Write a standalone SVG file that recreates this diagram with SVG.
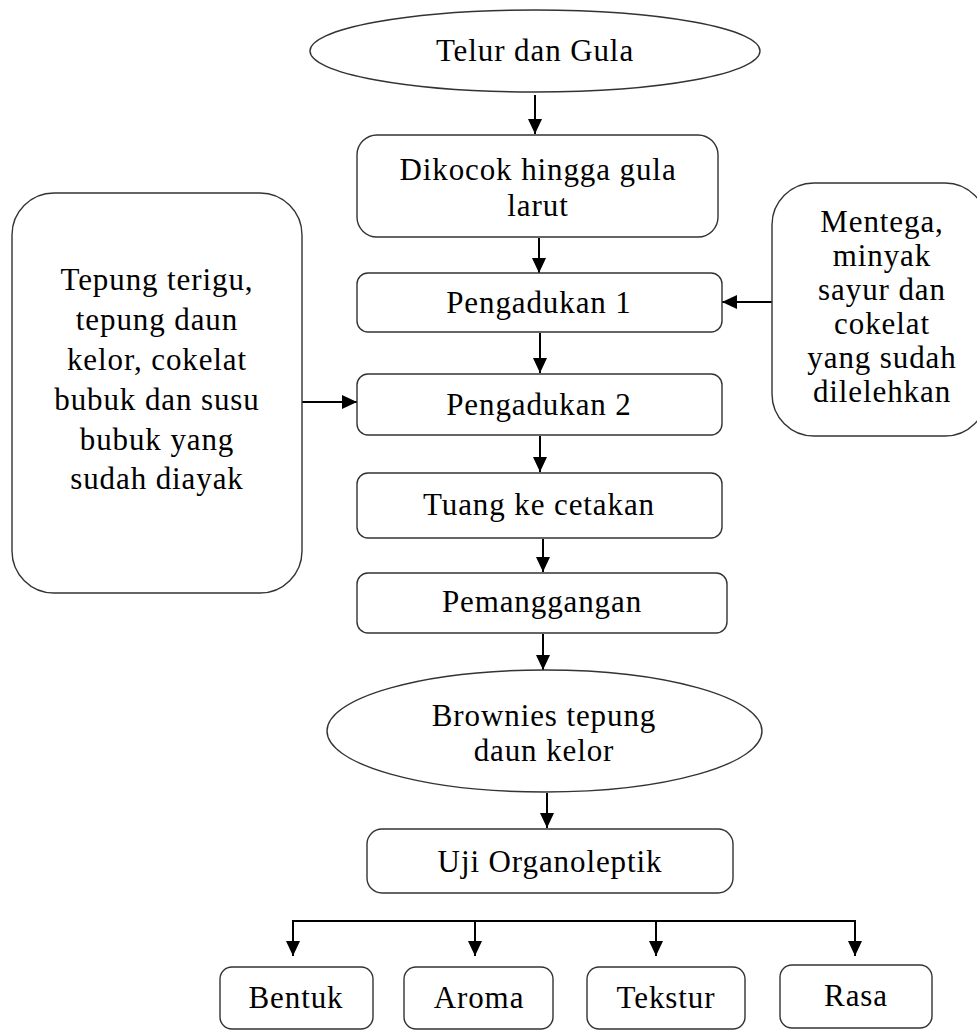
<svg xmlns="http://www.w3.org/2000/svg" width="977" height="1030" viewBox="0 0 977 1030">
<defs>
<marker id="ah" viewBox="0 0 15 14" refX="15" refY="7" markerWidth="15" markerHeight="14" markerUnits="userSpaceOnUse" orient="auto">
<path d="M0,0 L15,7 L0,14 Z" fill="#000"/>
</marker>
</defs>
<style>
.box{fill:#fff;stroke:#333;stroke-width:1.4}
.t{font-family:'Liberation Serif','Times New Roman',serif;font-size:31px;fill:#000;text-anchor:middle;letter-spacing:0.9px}
.c{fill:none;stroke:#000;stroke-width:2}
.a{fill:none;stroke:#000;stroke-width:2;marker-end:url(#ah)}
</style>
<rect width="977" height="1030" fill="#fff"/>
<g id="connectors">
<line class="a" x1="535" y1="95" x2="535" y2="134"/>
<line class="a" x1="539" y1="238" x2="539" y2="273"/>
<line class="a" x1="540" y1="333" x2="540" y2="373"/>
<line class="a" x1="540" y1="436" x2="540" y2="472"/>
<line class="a" x1="543" y1="539" x2="543" y2="572"/>
<line class="a" x1="543" y1="634" x2="543" y2="670"/>
<line class="a" x1="547" y1="793" x2="547" y2="828"/>
<line class="a" x1="302" y1="402" x2="357" y2="402"/>
<line class="a" x1="772" y1="302" x2="722" y2="302"/>
<polyline class="c" points="293,956 293,921 855,921 855,956"/>
<line class="a" x1="293" y1="921" x2="293" y2="956"/>
<line class="a" x1="475" y1="921" x2="475" y2="956"/>
<line class="a" x1="656" y1="921" x2="656" y2="956"/>
<line class="a" x1="855" y1="921" x2="855" y2="956"/>
</g>
<g id="n-telur">
<ellipse class="box" cx="535" cy="51" rx="225" ry="41"/>
<text class="t" x="535" y="61">Telur dan Gula</text>
</g>
<g id="n-dikocok">
<rect class="box" x="357" y="135" width="361" height="102" rx="20"/>
<text class="t" x="538" y="180">Dikocok hingga gula</text>
<text class="t" x="538" y="216">larut</text>
</g>
<g id="n-tepung">
<rect class="box" x="12" y="193" width="290" height="400" rx="42"/>
<text class="t" x="157" y="290">Tepung terigu,</text>
<text class="t" x="157" y="330">tepung daun</text>
<text class="t" x="157" y="370">kelor, cokelat</text>
<text class="t" x="157" y="410">bubuk dan susu</text>
<text class="t" x="157" y="450">bubuk yang</text>
<text class="t" x="157" y="489">sudah diayak</text>
</g>
<g id="n-mentega">
<rect class="box" x="772" y="183" width="215" height="253" rx="42"/>
<text class="t" x="882" y="232">Mentega,</text>
<text class="t" x="882" y="266">minyak</text>
<text class="t" x="882" y="300">sayur dan</text>
<text class="t" x="882" y="334">cokelat</text>
<text class="t" x="882" y="368">yang sudah</text>
<text class="t" x="882" y="402">dilelehkan</text>
</g>
<g id="n-peng1">
<rect class="box" x="357" y="273" width="365" height="59" rx="11"/>
<text class="t" x="539" y="313">Pengadukan 1</text>
</g>
<g id="n-peng2">
<rect class="box" x="357" y="374" width="365" height="61" rx="11"/>
<text class="t" x="539" y="415">Pengadukan 2</text>
</g>
<g id="n-tuang">
<rect class="box" x="357" y="473" width="365" height="65" rx="11"/>
<text class="t" x="539" y="515">Tuang ke cetakan</text>
</g>
<g id="n-pemanggangan">
<rect class="box" x="357" y="573" width="370" height="60" rx="11"/>
<text class="t" x="542" y="612">Pemanggangan</text>
</g>
<g id="n-brownies">
<ellipse class="box" cx="544.5" cy="731" rx="217.5" ry="61"/>
<text class="t" x="544" y="726">Brownies tepung</text>
<text class="t" x="544" y="761">daun kelor</text>
</g>
<g id="n-uji">
<rect class="box" x="367" y="829" width="366" height="64" rx="15"/>
<text class="t" x="550" y="872">Uji Organoleptik</text>
</g>
<g id="n-bentuk">
<rect class="box" x="220" y="967" width="153" height="62" rx="12"/>
<text class="t" x="296" y="1008">Bentuk</text>
</g>
<g id="n-aroma">
<rect class="box" x="404" y="967" width="149" height="62" rx="12"/>
<text class="t" x="479" y="1008">Aroma</text>
</g>
<g id="n-tekstur">
<rect class="box" x="587" y="967" width="158" height="62" rx="12"/>
<text class="t" x="666" y="1008">Tekstur</text>
</g>
<g id="n-rasa">
<rect class="box" x="780" y="965" width="152" height="63" rx="12"/>
<text class="t" x="856" y="1006">Rasa</text>
</g>
</svg>
